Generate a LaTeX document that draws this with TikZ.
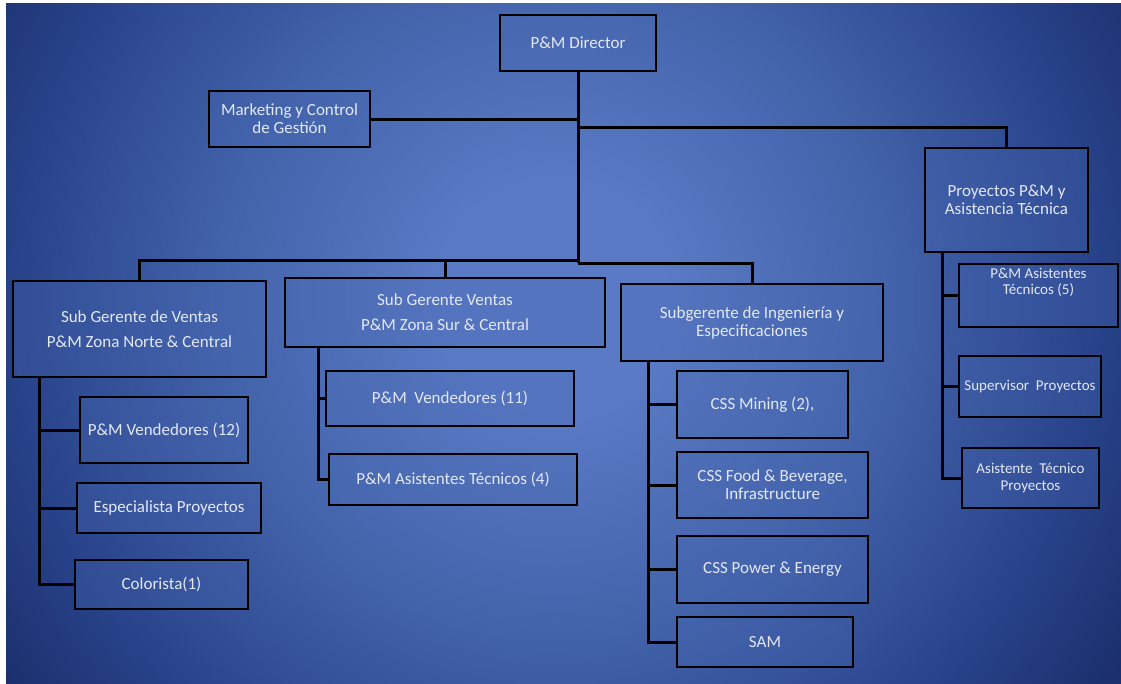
\documentclass[tikz,border=0pt]{standalone}
\usepackage{fontspec}
\setmainfont{Carlito}
\definecolor{bgA}{HTML}{5A7AC5}
\definecolor{bgB}{HTML}{4262AA}
\definecolor{bgC}{HTML}{29448C}
\definecolor{bgD}{HTML}{1B2F6C}
\definecolor{boxfill}{HTML}{4868B2}
\definecolor{txt}{HTML}{E3E8F3}
\pgfdeclareradialshading{bgshade}{\pgfpoint{0bp}{0bp}}{color(0bp)=(bgA); color(4bp)=(bgA); color(12bp)=(bgB); color(19bp)=(bgC); color(24bp)=(bgD); color(50bp)=(bgD)}
\tikzset{
  box/.style={draw=black, line width=2.5pt, fill=boxfill, fill opacity=0.3, text opacity=1,
    text=txt, align=center, inner sep=0pt, font=\fontsize{17}{18}\selectfont},
  boxsm/.style={box, font=\fontsize{15}{16.5}\selectfont},
  wide/.style={font=\fontsize{17}{25}\selectfont},
  conn/.style={draw=black, line width=3pt},
  lbl/.style={text=txt, align=center, inner sep=0pt, font=\fontsize{15}{16}\selectfont}
}
\begin{document}
\begin{tikzpicture}[x=1pt,y=-1pt]
\useasboundingbox (0,0) rectangle (1121,683);
\fill[white] (0,0) rectangle (1121,683);
\begin{scope}
  \clip (6,3) rectangle (1121,683);
  \shade[shading=bgshade] (555,300) circle (700pt);
\end{scope}

% top level
\node[box, minimum width=156, minimum height=56] (dir) at (578,43) {P\&M Director};
\node[box, minimum width=161, minimum height=56] (mkt) at (289.5,119) {Marketing y Control\\de Gestión};
\node[box, minimum width=163, minimum height=104] (proj) at (1006.5,200) {Proyectos P\&M y\\Asistencia Técnica};

% second level
\node[box, wide, minimum width=253, minimum height=96] (norte) at (139.5,329) {Sub Gerente de Ventas\\P\&M Zona Norte \& Central};
\node[box, wide, minimum width=320, minimum height=69] (sur) at (445,312.5) {Sub Gerente Ventas\\P\&M Zona Sur \& Central};
\node[box, minimum width=262, minimum height=77] (ing) at (752,322.5) {Subgerente de Ingeniería y\\Especificaciones};

% norte children
\node[box, minimum width=168, minimum height=66] (nv12) at (164,430) {P\&M Vendedores (12)};
\node[box, minimum width=184, minimum height=50] (esp) at (169,508) {Especialista Proyectos};
\node[box, minimum width=173, minimum height=49] (col) at (161.5,584.5) {Colorista(1)};

% sur children
\node[box, minimum width=248, minimum height=55] (sv11) at (450,398.5) {P\&M\ \ Vendedores (11)};
\node[box, minimum width=248, minimum height=51] (sat4) at (453,479.5) {P\&M Asistentes Técnicos (4)};

% ingenieria children
\node[box, minimum width=171, minimum height=67] (mining) at (762.5,404.5) {CSS Mining (2),};
\node[box, minimum width=191, minimum height=66] (food) at (772.5,485) {CSS Food \& Beverage,\\Infrastructure};
\node[box, minimum width=191, minimum height=67] (power) at (772.5,569.5) {CSS Power \& Energy};
\node[box, minimum width=176, minimum height=50] (sam) at (765,642) {SAM};

% proyectos children
\node[boxsm, minimum width=159, minimum height=63,
  label={[lbl, anchor=north, yshift=-5pt]north:P\&M Asistentes\\Técnicos (5)}] (pat5) at (1038.5,295.5) {};
\node[boxsm, minimum width=142, minimum height=61] (sup) at (1030,386.5) {Supervisor\ \ Proyectos};
\node[boxsm, minimum width=137, minimum height=60] (atp) at (1030.5,478) {Asistente\ \ Técnico\\Proyectos};

% junction coordinates
\coordinate (jp) at (578,127);
\coordinate (jn) at (578,260);
\coordinate (ji) at (578,263);
\coordinate (nv) at (39,377);
\coordinate (sv) at (318,347);
\coordinate (iv) at (648,361);
\coordinate (pv) at (942,252);

% connectors
\draw[conn] (dir.south) -- (ji);
\draw[conn] (mkt.east) -- (mkt.east -| dir.south);
\draw[conn] (jp) -| (proj.north);
\draw[conn] (jn) -| (norte.north);
\draw[conn] (jn) -| (sur.north);
\draw[conn] (ji) -| (ing.north);

\draw[conn] (nv) |- (nv12.west);
\draw[conn] (nv) |- (esp.west);
\draw[conn] (nv) |- (col.west);

\draw[conn] (sv) |- (sv11.west);
\draw[conn] (sv) |- (sat4.west);

\draw[conn] (iv) |- (mining.west);
\draw[conn] (iv) |- (food.west);
\draw[conn] (iv) |- (power.west);
\draw[conn] (iv) |- (sam.west);

\draw[conn] (pv) |- (pat5.west);
\draw[conn] (pv) |- (sup.west);
\draw[conn] (pv) |- (atp.west);
\end{tikzpicture}
\end{document}
